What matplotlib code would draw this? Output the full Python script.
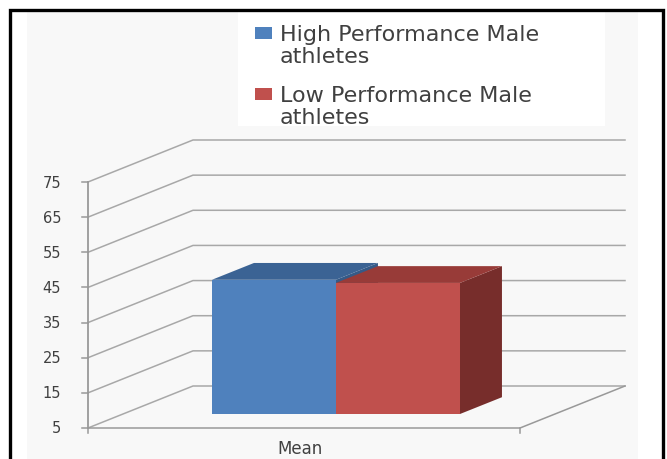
import matplotlib
matplotlib.use("Agg")
import matplotlib.pyplot as plt
from matplotlib.patches import Polygon, Rectangle

# ---- data -------------------------------------------------------------
categories = ["Mean"]
series_labels = ["High Performance Male\nathletes", "Low Performance Male\nathletes"]
values = [43.2, 42.3]
y_ticks = [5, 15, 25, 35, 45, 55, 65, 75]

front_colors = ["#4F81BD", "#C0504D"]
top_colors = ["#3B6394", "#983B38"]
side_colors = ["#355A87", "#772D2B"]

# ---- figure / axes ----------------------------------------------------
W, H = 667, 460
fig = plt.figure(figsize=(W / 100, H / 100), dpi=100)
fig.patch.set_facecolor("white")

# pixel anchors of the front plane: x 0..1 spans px 88..520, y 5..75 spans px 429..183
px_x0, px_x1 = 88, 520
px_y_lo, px_y_hi = 429, 183
v_lo, v_hi = y_ticks[0], y_ticks[-1]
sx = px_x1 - px_x0
sy = (px_y_lo - px_y_hi) / (v_hi - v_lo)

ax = fig.add_axes([0, 0, 1, 1], zorder=1)
ax.set_xlim(-px_x0 / sx, (W - px_x0) / sx)
ax.set_ylim(v_lo - (H - px_y_lo) / sy, v_lo + px_y_lo / sy)
ax.axis("off")

# oblique depth vector (full depth of the plot box)
DX = 105 / sx
DV = 42 / sy


def proj(x, v, d):
    return (x + d * DX, v + d * DV)


# ---- background panels ------------------------------------------------
fig.patches.append(Rectangle((27 / W, 0), (638 - 27) / W, 1 - 10 / H,
                             transform=fig.transFigure, facecolor="#F8F8F8",
                             edgecolor="none", zorder=-5))
fig.patches.append(Rectangle((238 / W, 1 - 127 / H), (605 - 238) / W, (127 - 10) / H,
                             transform=fig.transFigure, facecolor="white",
                             edgecolor="none", zorder=-4))
# outer frame
fig.patches.append(Rectangle((9.5 / W, -0.05), (663 - 9.5) / W, 1.05 - 10.5 / H,
                             transform=fig.transFigure, facecolor="none",
                             edgecolor="black", linewidth=2.4, zorder=10))

grid_c = "#A8A8A8"
axis_c = "#999999"

# ---- walls: gridlines on side wall and back wall ----------------------
for t in y_ticks:
    a = proj(0, t, 0)
    b = proj(0, t, 1)
    c = proj(1, t, 1)
    ax.plot([a[0], b[0], c[0]], [a[1], b[1], c[1]], color=grid_c, lw=1.1,
            solid_joinstyle="miter", zorder=1)

# floor outline
f = [proj(0, v_lo, 0), proj(1, v_lo, 0), proj(1, v_lo, 1)]
ax.plot([p[0] for p in f], [p[1] for p in f], color=axis_c, lw=1.1, zorder=1)

# value axis line and ticks
ax.plot([0, 0], [v_lo, v_hi], color=axis_c, lw=1.3, zorder=2)
for t in y_ticks:
    ax.plot([-6 / sx, 0], [t, t], color=axis_c, lw=1.1, zorder=2)
    ax.text(-27 / sx, t, str(t), ha="right", va="center", fontsize=10.5,
            color="#404040", family="DejaVu Sans")

# category ticks
for xt in (0, 1):
    ax.plot([xt, xt], [v_lo, v_lo - 5 / sy], color=axis_c, lw=1.1, zorder=2)
for i, cat in enumerate(categories):
    ax.text(0.5 + i - 0.01, v_lo - 20 / sy, cat, ha="center", va="center",
            fontsize=12, color="#404040", family="DejaVu Sans")

# ---- bars ------------------------------------------------------------
bar_w = 124 / sx
bar_start = 0.5 - 0.294
d0, d1 = 0.333, 0.733
for i, val in enumerate(values):
    x0 = bar_start + i * bar_w
    x1 = x0 + bar_w
    front = [proj(x0, v_lo, d0), proj(x1, v_lo, d0), proj(x1, val, d0), proj(x0, val, d0)]
    top = [proj(x0, val, d0), proj(x1, val, d0), proj(x1, val, d1), proj(x0, val, d1)]
    side = [proj(x1, v_lo, d0), proj(x1, v_lo, d1), proj(x1, val, d1), proj(x1, val, d0)]
    z = 3 + i
    ax.add_patch(Polygon(side, closed=True, facecolor=side_colors[i], edgecolor="none", zorder=z))
    ax.add_patch(Polygon(top, closed=True, facecolor=top_colors[i], edgecolor="none", zorder=z))
    ax.add_patch(Polygon(front, closed=True, facecolor=front_colors[i], edgecolor="none", zorder=z))

# ---- legend ----------------------------------------------------------
leg_rows = [34, 95]
for i, lab in enumerate(series_labels):
    yc = leg_rows[i]
    fig.patches.append(Rectangle((255 / W, 1 - (yc + 6) / H), 17 / W, 12 / H,
                                 transform=fig.transFigure, facecolor=front_colors[i],
                                 edgecolor="none", zorder=5))
    fig.text(280 / W, 1 - (yc - 9) / H, lab, ha="left", va="top", fontsize=16,
             color="#404040", family="DejaVu Sans", linespacing=1.1)

fig.savefig("out.png", dpi=100)
